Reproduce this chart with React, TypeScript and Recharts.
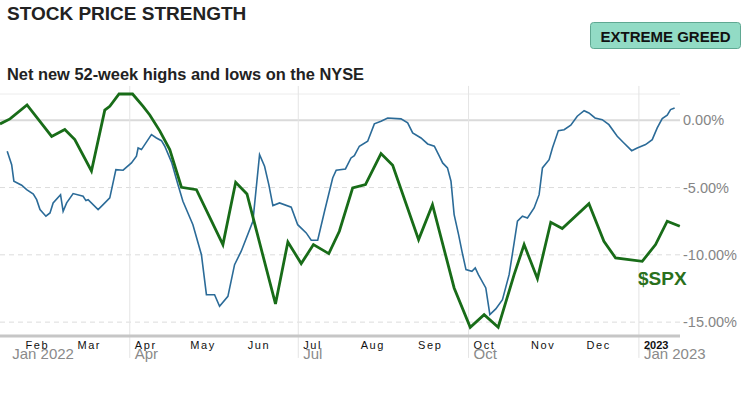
import { LineChart, Line, XAxis, YAxis, ReferenceLine } from 'recharts'

// days counted from Jan 1 2022, values in % on the right-hand scale
const blueDays = [
    23.8, 26.2, 27.4, 31.6, 34.3, 37.9, 39.7, 41.5, 44.7, 46.9, 48.6, 52.6, 54.0, 55.9, 59.4, 64.8, 66.3, 67.5,
    72.9, 75.6, 79.2, 82.5, 86.4, 90.9, 93.6, 94.5, 96.3, 101.7, 104.4, 107.1, 108.9, 112.6, 116.0, 118.7, 124.1,
    128.7, 131.4, 135.8, 138.5, 143.0, 146.6, 150.2, 156.5, 160.1, 162.8, 165.1, 167.3, 170.9, 177.2, 180.7, 185.3,
    188.0, 191.5, 195.2, 199.6, 201.5, 206.5, 209.5, 211.3, 214.0, 218.5, 222.1, 225.7, 229.3, 236.5, 240.1, 242.8,
    247.3, 250.9, 254.5, 257.2, 259.0, 261.6, 263.5, 265.2, 267.6, 269.4, 271.6, 274.8, 276.6, 278.3, 282.3, 284.5,
    287.7, 291.3, 294.9, 297.6, 299.4, 302.1, 304.8, 308.4, 311.1, 312.9, 316.5, 318.3, 321.5, 324.6, 328.2, 331.7,
    335.4, 338.0, 341.3, 345.2, 348.8, 353.3, 356.9, 361.1, 364.1, 368.6, 372.2, 374.9, 377.6, 380.3, 382.1, 384.3,
]
const blueValues = [
    -2.3, -3.3, -4.53, -4.83, -5.16, -5.48, -5.9, -6.64, -7.13, -6.89, -6.14, -5.53, -6.76, -6.14, -5.45, -5.65, -5.97, -5.9,
    -6.64, -6.27, -5.77, -3.67, -3.71, -3.17, -2.67, -2.06, -2.18, -1.07, -1.32, -1.52, -1.93, -3.13, -4.78, -6.02, -7.76,
    -9.99, -12.96, -12.96, -13.82, -13.08, -10.73, -9.73, -7.5, -2.56, -3.42, -4.78, -6.34, -6.14, -6.46, -7.76, -8.37,
    -8.92, -8.92, -6.76, -4.29, -3.71, -3.62, -2.8, -2.63, -1.93, -1.56, -0.27, -0.07, 0.17, 0.1, -0.2, -0.94,
    -1.32, -1.76, -1.93, -2.67, -3.17, -3.54, -4.53, -7.01, -8.5, -9.73, -11.1, -11.22, -10.97, -11.47, -12.46, -14.44,
    -14.02, -13.33, -11.47, -9.12, -7.5, -7.13, -7.26, -6.52, -5.53, -3.54, -2.93, -2.06, -0.77, -0.7, -0.37, 0.3,
    0.71, 0.54, 0.17, 0.04, -0.33, -1.19, -1.69, -2.26, -2.06, -1.81, -1.44, -0.57, 0.12, 0.37, 0.79, 0.91,
]

const spxDays = [
    19.9, 25.3, 34.5, 47.8, 54.9, 60.3, 69.3, 76.5, 79.2, 84.2, 91.5, 97.2, 100.8, 106.2, 111.6, 117.9, 126.0,
    140.3, 147.2, 153.3, 168.7, 175.4, 182.6, 189.2, 197.5, 203.2, 210.4, 217.3, 225.7, 232.0, 246.0, 253.5,
    265.2, 273.9, 281.4, 289.0, 297.6, 303.0, 310.2, 317.4, 323.6, 338.0, 346.1, 352.4, 366.8, 374.0, 380.3, 387.1,
]
const spxValues = [
    -0.27, 0.1, 1.14, -1.2, -0.68, -1.43, -3.77, 0.75, 1.04, 1.95, 1.95, 1.03, 0.39, -0.79, -2.18, -4.98, -5.16,
    -9.24, -4.61, -5.48, -13.65, -9.04, -10.65, -9.24, -9.91, -8.25, -5.03, -4.78, -2.48, -3.34, -8.87, -6.27,
    -12.46, -15.38, -14.44, -15.38, -11.47, -9.24, -11.77, -7.58, -8.05, -6.2, -8.99, -10.23, -10.48, -9.24, -7.5, -7.88,
]

const monthTicks = [23.8, 31, 59, 90, 120, 151, 181, 212, 243, 273, 304, 334, 365]
const monthLabels = ['', 'Feb', 'Mar', 'Apr', 'May', 'Jun', 'Jul', 'Aug', 'Sep', 'Oct', 'Nov', 'Dec', '2023']
const quarterLabels = ['Jan 2022', '', '', 'Apr', '', '', 'Jul', '', '', 'Oct', '', '', 'Jan 2023']
const quarterDays = [90, 181, 273, 365]
const pctTicks = [0, -5, -10, -15]
// weekly minor ticks (Mondays)
const weekTicks = [
    23, 30, 37, 44, 51, 58, 65, 72, 79, 86, 93, 100, 107, 114, 121, 128, 135, 142, 149, 156, 163, 170, 177, 184,
    191, 198, 205, 212, 219, 226, 233, 240, 247, 254, 261, 268, 275, 282, 289, 296, 303, 310, 317, 324, 331, 338,
    345, 352, 359, 366, 373, 380,
]

const blueData = blueDays.map((d, i) => ({ d, v: blueValues[i] }))
const spxData = spxDays.map((d, i) => ({ d, v: spxValues[i] }))

const FONT = '"Liberation Sans", Arial, sans-serif'
const BLUE = '#2b6b98'
const GREEN = '#186c18'

function MonthTick(props: any) {
    const { x, y, payload } = props
    const i = monthTicks.indexOf(payload.value)
    const m = monthLabels[i]
    const q = quarterLabels[i]
    return (
        <g>
            {m && (
                <text
                    x={x + 5}
                    y={y + 13}
                    fontFamily={FONT}
                    fontSize={11}
                    letterSpacing={m === '2023' ? 0 : 1.6}
                    fontWeight={m === '2023' ? 'bold' : 'normal'}
                    fill="#111"
                >
                    {m}
                </text>
            )}
            {q && (
                <text x={x + 5} y={y + 23} fontFamily={FONT} fontSize={15} fill="#8a8a8a">
                    {q}
                </text>
            )}
        </g>
    )
}

const NoLabel = () => <g />

export default function App() {
    return (
        <div style={{ position: 'absolute', left: 0, top: 0, width: 755, height: 396, background: '#fff' }}>
            <LineChart
                width={755}
                height={396}
                margin={{ top: 94, right: 0, bottom: 0, left: 0 }}
            >
                <XAxis
                    xAxisId="week"
                    type="number"
                    domain={[19.9, 387.2]}
                    ticks={weekTicks}
                    interval={0}
                    tick={<NoLabel />}
                    tickSize={4}
                    tickLine={{ stroke: '#d2d2d2' }}
                    axisLine={false}
                    height={0}
                />
                <XAxis
                    dataKey="d"
                    type="number"
                    domain={[19.9, 387.2]}
                    ticks={monthTicks}
                    interval={0}
                    tick={<MonthTick />}
                    tickSize={0}
                    tickMargin={0}
                    tickLine={false}
                    axisLine={{ stroke: '#c6c6c6', strokeWidth: 3 }}
                    height={60}
                />
                <YAxis
                    orientation="right"
                    type="number"
                    domain={[-16.03, 1.95]}
                    ticks={pctTicks}
                    tickFormatter={(v: number) => v.toFixed(2) + '%'}
                    tick={{ fill: '#858585', fontSize: 14.5, fontFamily: FONT }}
                    tickSize={0}
                    tickMargin={3}
                    axisLine={false}
                    tickLine={false}
                    width={75}
                />

                <ReferenceLine y={1.95} stroke="#ececec" />
                <ReferenceLine y={0} stroke="#dadada" strokeWidth={2} />
                {pctTicks.slice(1).map((t) => (
                    <ReferenceLine key={t} y={t} stroke="#dcdcdc" strokeDasharray="5 4" />
                ))}
                {quarterDays.map((d) => (
                    <ReferenceLine
                        key={d}
                        segment={[{ x: d, y: 2.55 }, { x: d, y: -17.66 }]}
                        ifOverflow="visible"
                        stroke="#e4e4e4"
                    />
                ))}

                <Line
                    data={blueData}
                    dataKey="v"
                    type="linear"
                    stroke={BLUE}
                    strokeWidth={1.6}
                    dot={false}
                    isAnimationActive={false}
                />
                <Line
                    data={spxData}
                    dataKey="v"
                    type="linear"
                    stroke={GREEN}
                    strokeWidth={2.8}
                    dot={false}
                    isAnimationActive={false}
                />
            </LineChart>

            <svg
                width={755}
                height={396}
                style={{ position: 'absolute', left: 0, top: 0, pointerEvents: 'none' }}
            >
                <text x={7} y={20} fontFamily={FONT} fontSize={19} fontWeight="bold" fill="#222">
                    STOCK PRICE STRENGTH
                </text>
                <text x={7} y={80} fontFamily={FONT} fontSize={16.4} fontWeight="bold" fill="#222">
                    Net new 52-week highs and lows on the NYSE
                </text>
                <rect x={590.5} y={22.5} width={150} height={26} rx={3} fill="#92dbc5" stroke="#5fa892" />
                <text
                    x={665.5}
                    y={41.5}
                    textAnchor="middle"
                    fontFamily={FONT}
                    fontSize={15}
                    fontWeight="bold"
                    fill="#111"
                >
                    EXTREME GREED
                </text>
                <text x={638} y={285} fontFamily={FONT} fontSize={19} fontWeight="bold" fill="#2a701c">
                    $SPX
                </text>
            </svg>
        </div>
    )
}
